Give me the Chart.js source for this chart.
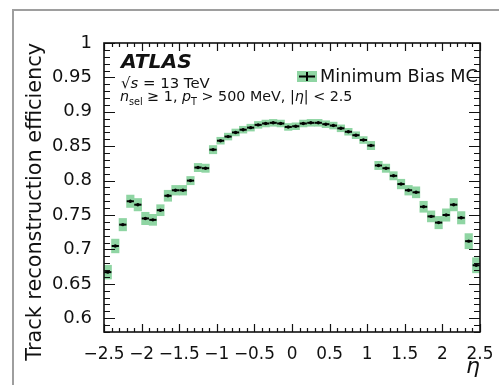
<!DOCTYPE html>
<html>
<head>
<meta charset="utf-8">
<script src="https://cdn.jsdelivr.net/npm/chart.js@4.4.1/dist/chart.umd.min.js"></script>
<style>
html,body{margin:0;padding:0;background:#fff;}
#wrap{width:499px;height:385px;position:relative;}
</style>
</head>
<body>
<div id="wrap"><canvas id="c" width="499" height="385"></canvas></div>
<script>
// ---- data ----
const etaBins = [-2.45,-2.35,-2.25,-2.15,-2.05,-1.95,-1.85,-1.75,-1.65,-1.55,
                 -1.45,-1.35,-1.25,-1.15,-1.05,-0.95,-0.85,-0.75,-0.65,-0.55,
                 -0.45,-0.35,-0.25,-0.15,-0.05,0.05,0.15,0.25,0.35,0.45,
                 0.55,0.65,0.75,0.85,0.95,1.05,1.15,1.25,1.35,1.45,
                 1.55,1.65,1.75,1.85,1.95,2.05,2.15,2.25,2.35,2.45];
const efficiency = [0.667,0.705,0.736,0.770,0.765,0.745,0.743,0.757,0.778,0.786,
                    0.786,0.800,0.819,0.818,0.845,0.858,0.864,0.870,0.874,0.877,
                    0.881,0.883,0.884,0.883,0.878,0.879,0.883,0.884,0.884,0.882,
                    0.880,0.876,0.871,0.866,0.859,0.851,0.822,0.818,0.807,0.795,
                    0.786,0.783,0.762,0.748,0.739,0.750,0.765,0.746,0.712,0.677];
const efficiencyUnc = [0.010,0.010,0.009,0.009,0.009,0.009,0.008,0.008,0.008,0.007,
                       0.007,0.006,0.006,0.006,0.006,0.005,0.005,0.005,0.005,0.005,
                       0.005,0.005,0.005,0.005,0.005,0.005,0.005,0.005,0.005,0.005,
                       0.005,0.005,0.005,0.005,0.005,0.006,0.006,0.006,0.006,0.007,
                       0.007,0.008,0.008,0.008,0.009,0.009,0.009,0.009,0.011,0.011];
const xTickValues = [-2.5,-2,-1.5,-1,-0.5,0,0.5,1,1.5,2,2.5];
const xTickLabels = ['\u22122.5','\u22122','\u22121.5','\u22121','\u22120.5','0','0.5','1','1.5','2','2.5'];
const yTickValues = [0.6,0.65,0.7,0.75,0.8,0.85,0.9,0.95,1];
const yTickLabels = ['0.6','0.65','0.7','0.75','0.8','0.85','0.9','0.95','1'];
const seriesLabel = 'Minimum Bias MC';
const xTitle = '\u03b7';
const yTitle = 'Track reconstruction efficiency';
const atlasLabel = 'ATLAS';

const FONT = 'DejaVu Sans';
const GREEN = '#8fd5a3';

// font sizes chosen so that text widths match the reference
const mctx = document.createElement('canvas').getContext('2d');
function fitSize(text, target, style) {
  mctx.font = (style || '') + ' 100px "' + FONT + '"';
  return Math.round(1000 * target / mctx.measureText(text).width) / 10;
}
const yTickSize = fitSize('0.95', 40);
const xTickSize = fitSize('\u22122.5', 41);
const yTitleSize = fitSize(yTitle, 317);
const legendSize = fitSize(seriesLabel, 158);
const atlasSize = fitSize(atlasLabel, 71, 'italic bold');

function runsWidth(runs) {
  let w = 0;
  runs.forEach(r => { mctx.font = r.f; w += mctx.measureText(r.t).width; });
  return w;
}
function makeLine3(s) {
  const m = s + 'px "' + FONT + '"', mi = 'italic ' + s + 'px "' + FONT + '"', sb = (s * 0.68).toFixed(1) + 'px "' + FONT + '"';
  return [
    {t:'n', f:mi}, {t:'sel', f:sb, dy:4}, {t:' \u2265 1, ', f:m},
    {t:'p', f:mi}, {t:'T', f:sb, dy:4}, {t:' > 500 MeV, |', f:m},
    {t:'\u03b7', f:mi}, {t:'| < 2.5', f:m}
  ];
}
function makeLine2(s) {
  const n = s + 'px "' + FONT + '"', ni = 'italic ' + s + 'px "' + FONT + '"';
  return [{t:'\u221a', f:n}, {t:'s', f:ni}, {t:' = 13 TeV', f:n}];
}
const line3Size = Math.min(16, Math.round(10 * 14.5 * 233 / runsWidth(makeLine3(14.5))) / 10);
const line2Size = Math.min(16, Math.round(10 * 15 * 89 / runsWidth(makeLine2(15))) / 10);

function drawRuns(c, x, y, runs){
  runs.forEach(r => {
    c.font = r.f;
    c.fillText(r.t, x, y + (r.dy || 0));
    x += c.measureText(r.t).width;
  });
}

const decor = {
  id: 'decor',
  beforeDraw(chart){
    const c = chart.ctx;
    c.save();
    c.fillStyle = '#fff';
    c.fillRect(0, 0, chart.width, chart.height);
    c.strokeStyle = '#9e9e9e';
    c.lineWidth = 2;
    c.beginPath();
    c.moveTo(13, chart.height); c.lineTo(13, 10); c.lineTo(chart.width, 10);
    c.stroke();
    c.restore();
  },
  afterDraw(chart){
    const c = chart.ctx, xs = chart.scales.x, ys = chart.scales.y;
    const L0 = xs.getPixelForValue(-2.5), R0 = xs.getPixelForValue(2.5);
    const T0 = ys.getPixelForValue(1.0), B0 = ys.getPixelForValue(0.58);
    c.save();
    c.strokeStyle = '#111';
    c.lineWidth = 1.2;
    c.beginPath();
    for (let k = -25; k <= 25; k++) {
      const px = Math.round(xs.getPixelForValue(k / 10)) + 0.5;
      const L = (k % 5 === 0) ? 8 : 4;
      c.moveTo(px, B0); c.lineTo(px, B0 - L);
      c.moveTo(px, T0); c.lineTo(px, T0 + L);
    }
    for (let k = 58; k <= 100; k++) {
      const py = Math.round(ys.getPixelForValue(k / 100)) + 0.5;
      const L = (k % 5 === 0) ? 11 : 6;
      c.moveTo(L0, py); c.lineTo(L0 + L, py);
      c.moveTo(R0, py); c.lineTo(R0 - L, py);
    }
    c.stroke();
    c.lineWidth = 1.6;
    c.strokeRect(L0, T0, R0 - L0, B0 - T0);

    // texts
    c.fillStyle = '#111';
    c.textBaseline = 'alphabetic';
    c.textAlign = 'left';
    c.font = 'italic bold ' + atlasSize + 'px "' + FONT + '"';
    c.fillText(atlasLabel, L0 + 17, T0 + 25);
    drawRuns(c, L0 + 17, T0 + 45, makeLine2(line2Size));
    drawRuns(c, L0 + 16, T0 + 58, makeLine3(line3Size));
    // legend
    c.fillStyle = GREEN;
    c.fillRect(297, 71, 20, 11);
    c.strokeStyle = '#000';
    c.lineWidth = 2;
    c.beginPath();
    c.moveTo(299, 76.5); c.lineTo(315, 76.5);
    c.moveTo(307, 72); c.lineTo(307, 81);
    c.stroke();
    c.fillStyle = '#111';
    c.font = legendSize + 'px "' + FONT + '"';
    c.fillText(seriesLabel, 320, 82);
    c.restore();
  }
};

const boxData = etaBins.map((x, i) => ({x: x, y: [efficiency[i] - efficiencyUnc[i], efficiency[i] + efficiencyUnc[i]]}));
const pointData = etaBins.map((x, i) => ({x: x, y: efficiency[i]}));

new Chart(document.getElementById('c'), {
  type: 'bar',
  data: {
    datasets: [
      { type: 'bar', label: seriesLabel, data: boxData, backgroundColor: GREEN,
        borderWidth: 0, barPercentage: 1, categoryPercentage: 1, order: 3 },
      { type: 'line', label: seriesLabel, data: pointData, showLine: false,
        pointStyle: 'line', pointRadius: 3.6, borderColor: '#000', borderWidth: 2, order: 2 },
      { type: 'line', label: seriesLabel, data: pointData, showLine: false,
        pointStyle: 'circle', pointRadius: 1.7, backgroundColor: '#000', borderWidth: 0, order: 1 }
    ]
  },
  options: {
    responsive: false,
    animation: false,
    events: [],
    layout: { padding: { left: 0, top: 43, right: 19, bottom: 0 } },
    plugins: { legend: { display: false }, tooltip: { enabled: false } },
    scales: {
      x: {
        type: 'linear', min: -2.5, max: 2.5, offset: false,
        grid: { display: false }, border: { display: false },
        afterBuildTicks: s => { s.ticks = xTickValues.map(v => ({value: v})); },
        ticks: { callback: (v, i) => xTickLabels[i], font: { family: FONT, size: xTickSize }, color: '#111',
                 padding: 20 - 0.946 * xTickSize, maxRotation: 0, autoSkip: false },
        title: { display: true, text: xTitle, align: 'end', color: '#111',
                 font: { family: FONT, size: 22, style: 'italic' }, padding: { top: 0, bottom: 5 } },
        afterFit: s => { s.height = 53; }
      },
      y: {
        type: 'linear', min: 0.58, max: 1.0,
        grid: { display: false }, border: { display: false },
        afterBuildTicks: s => { s.ticks = yTickValues.map(v => ({value: v})); },
        ticks: { callback: (v, i) => yTickLabels[i], font: { family: FONT, size: yTickSize }, color: '#111',
                 padding: 4, autoSkip: false },
        title: { display: true, text: yTitle, align: 'end', color: '#111',
                 font: { family: FONT, size: yTitleSize }, padding: { top: 43 - 0.946 * yTitleSize, bottom: 0 } },
        afterFit: s => { s.width = 104; }
      }
    }
  },
  plugins: [decor]
});
</script>
</body>
</html>
